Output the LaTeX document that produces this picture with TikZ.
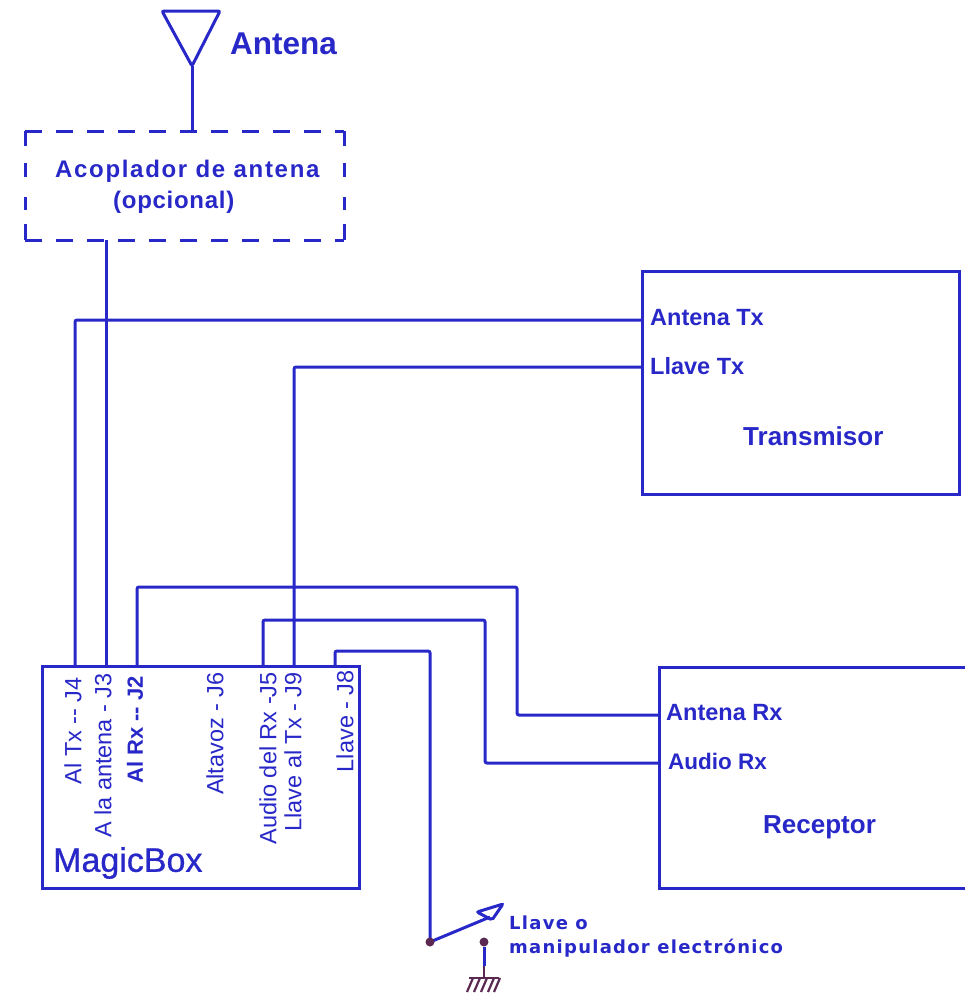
\documentclass[tikz,border=0pt]{standalone}
\usepackage{fontspec}
\setmainfont{Liberation Sans}
\newfontfamily\keyfont{DejaVu Sans}
\definecolor{wireblue}{RGB}{40,40,200}
\definecolor{earthred}{RGB}{90,40,80}
\tikzset{
  box/.style={draw=wireblue, line width=3pt, inner sep=0pt, outer sep=0pt, anchor=north west},
  wire/.style={draw=wireblue, line width=3pt, rounded corners=2pt},
  jacklabel/.style={text=wireblue, font=\fontsize{23.5}{23.5}\selectfont, rotate=90, anchor=east, inner sep=0pt},
  boxlabel/.style={text=wireblue, font=\bfseries\fontsize{23.5}{23.5}\selectfont, anchor=west, inner sep=0pt},
  boxname/.style={boxlabel, font=\bfseries\fontsize{26}{26}\selectfont},
  couplabel/.style={boxlabel, font=\bfseries\fontsize{24}{24}\selectfont\addfontfeature{LetterSpace=7}},
  keylabel/.style={boxlabel, font=\keyfont\bfseries\fontsize{18}{18}\selectfont\addfontfeature{LetterSpace=7}},
  keydot/.style={circle, fill=earthred, inner sep=0pt, minimum size=9pt}
}
\begin{document}
\begin{tikzpicture}[x=1pt, y=-1pt]
\useasboundingbox (0,0) rectangle (965,994);

% boxes
\node [box, draw=none, minimum width=319pt, minimum height=109pt] (coupler) at (25,131) {};
\node [box, minimum width=317pt, minimum height=223pt] (transmitter) at (642,271) {};
\node [box, minimum width=340pt, minimum height=221pt] (receiver) at (659,667) {};
\node [box, minimum width=317pt, minimum height=222pt] (magicbox) at (42,666) {};

% dashed outline of the coupler
\begin{scope}[wire, rounded corners=0pt]
\draw [dash pattern=on 17pt off 14pt] (coupler.north west) -- (coupler.north east);
\draw [dash pattern=on 17pt off 14pt] (coupler.south west) -- (coupler.south east);
\draw [dash pattern=on 15pt off 17pt on 14pt off 20pt on 13pt off 14pt on 16pt off 9pt] (coupler.north west) -- (coupler.south west);
\draw [dash pattern=on 15pt off 17pt on 14pt off 20pt on 13pt off 14pt on 16pt off 9pt] (coupler.north east) -- (coupler.south east);
\end{scope}

% antenna
\coordinate (ant1) at (162,11);
\coordinate (ant2) at (220,11);
\coordinate (ant3) at (192,66);
\draw [wire] (ant1) -- (ant2) -- (ant3) -- cycle;
\coordinate (coupin) at (192,131);
\draw [wire] (ant3) -- (coupin);

% pins of the magicbox
\coordinate (j4) at (75,666);
\coordinate (j3) at (106,666);
\coordinate (j2) at (137,666);
\coordinate (j5) at (263,666);
\coordinate (j9) at (294,666);
\coordinate (j8) at (335,666);
\coordinate (couout) at (106,240);
\coordinate (anttx) at (642,320);
\coordinate (keytx) at (642,367);
\coordinate (antrx) at (659,715);
\coordinate (audrx) at (659,763);
\coordinate (keypivot) at (430,942);
\coordinate (keytip) at (490,917);

% wiring
\draw [wire] (couout) -- (j3);
\draw [wire] (j4) |- (anttx);
\draw [wire] (j9) |- (keytx);
\draw [wire] (j2) -- (137,587) -- (517,587) -- (517,715) -- (antrx);
\draw [wire] (j5) -- (263,620) -- (485,620) -- (485,763) -- (audrx);
\draw [wire] (j8) -- (335,651) -- (430,651) -- (keypivot);

% key
\draw [wire] (keypivot) -- (keytip);
\draw [wire, line join=miter] (477,912) -- (503,904) -- (492,920) -- cycle;
\node [keydot] (pivotdot) at (keypivot) {};
\node [keydot] (contact) at (484,942) {};
\coordinate (earth) at (484,978);
\coordinate (earthmid) at (484,966);
\draw [wire] (contact) -- (earthmid);
\begin{scope}[earthred, line width=2.2pt]
\draw (earthmid) -- (earth);
\draw (469,978) -- (499,978);
\foreach \x in {473,480,487,494,500} {
  \draw (\x,978) -- (\x-6,992);
}
\end{scope}

% labels
\node [boxlabel, font=\bfseries\fontsize{31.5}{31.5}\selectfont] (antena) at (230,44) {Antena};
\node [couplabel] (couname) at (55,171) {Acoplador de antena};
\node [couplabel, font=\bfseries\fontsize{24}{24}\selectfont\addfontfeature{LetterSpace=3}] (couopt) at (113,202) {(opcional)};
\node [boxlabel] (anttxlabel) at (650,318) {Antena Tx};
\node [boxlabel] (keytxlabel) at (650,366) {Llave Tx};
\node [boxname] (txname) at (743,436) {Transmisor};
\node [boxlabel] (antrxlabel) at (666,713) {Antena Rx};
\node [boxlabel, font=\bfseries\fontsize{22.5}{22.5}\selectfont] (audrxlabel) at (668,761) {Audio Rx};
\node [boxname] (rxname) at (763,827) {Receptor};
\node [text=wireblue, font=\fontsize{34}{34}\selectfont\addfontfeature{FakeBold=0.8}, anchor=west, inner sep=0pt] (mbname) at (53,863) {MagicBox};

\node [jacklabel] (j4label) at (73,677) {Al Tx -{}- J4};
\node [jacklabel] (j3label) at (103,673) {A la antena - J3};
\node [jacklabel, font=\bfseries\fontsize{22}{22}\selectfont] (j2label) at (135,676) {Al Rx -{}- J2};
\node [jacklabel] (j6label) at (215,672) {Altavoz - J6};
\node [jacklabel] (j5label) at (268,672) {Audio del Rx -J5};
\node [jacklabel] (j9label) at (293,672) {Llave al Tx - J9};
\node [jacklabel] (j8label) at (345,670) {Llave - J8};

\node [keylabel] (keyname) at (509,923) {Llave o};
\node [keylabel] (keyname2) at (509,948) {manipulador electrónico};

\end{tikzpicture}
\end{document}
